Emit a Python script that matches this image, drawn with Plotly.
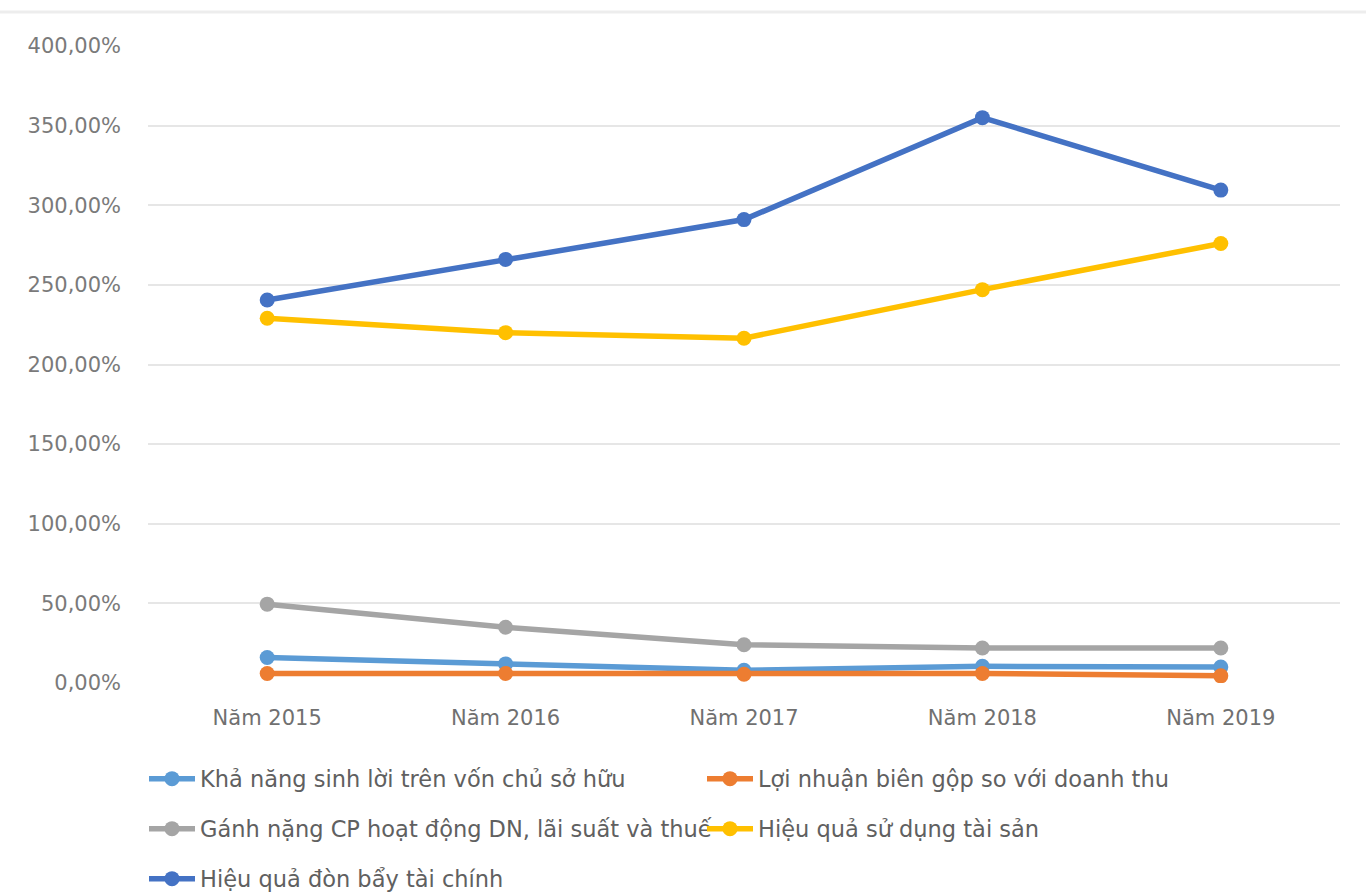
import plotly.graph_objects as go

categories = ["Năm 2015", "Năm 2016", "Năm 2017", "Năm 2018", "Năm 2019"]
roe = [16.0, 12.0, 8.0, 10.5, 10.0]
gross_margin = [6.0, 6.0, 5.5, 6.0, 4.5]
burden = [49.5, 35.0, 24.0, 22.0, 22.0]
asset_eff = [229.0, 220.0, 216.5, 247.0, 276.0]
leverage = [240.5, 266.0, 291.0, 355.0, 309.5]

names = [
    "Khả năng sinh lời trên vốn chủ sở hữu",
    "Lợi nhuận biên gộp so với doanh thu",
    "Gánh nặng CP hoạt động DN, lãi suất và thuế",
    "Hiệu quả sử dụng tài sản",
    "Hiệu quả đòn bẩy tài chính",
]
series = [roe, gross_margin, burden, asset_eff, leverage]
colors = ["#5B9BD5", "#ED7D31", "#A5A5A5", "#FFC000", "#4472C4"]
legend_ids = ["legend", "legend", "legend2", "legend2", "legend3"]
yticks = [0, 50, 100, 150, 200, 250, 300, 350, 400]
yticklabels = [f"{v},00%" for v in yticks]

fig = go.Figure()
for name, vals, col, lg in zip(names, series, colors, legend_ids):
    fig.add_trace(go.Scatter(
        x=categories, y=vals, name=name, mode="lines+markers",
        line=dict(color=col, width=5.5),
        marker=dict(color=col, size=15),
        legend=lg,
    ))

font_fam = "DejaVu Sans"
txt = "#606060"
leg_common = dict(orientation="h", xanchor="left", yanchor="middle",
                  font=dict(family=font_fam, size=22.5, color=txt),
                  bgcolor="rgba(0,0,0,0)", entrywidth=497, entrywidthmode="pixels",
                  itemwidth=46, traceorder="normal")

def py(pix):
    return (683 - pix) / 637.0

def px(pix):
    return (pix - 148) / 1192.0

fig.update_layout(
    width=1366, height=893,
    margin=dict(l=148, r=26, t=46, b=210, autoexpand=False),
    paper_bgcolor="white", plot_bgcolor="white",
    font=dict(family=font_fam, size=21, color=txt),
    xaxis=dict(range=[-0.5, 4.5], showgrid=False, showline=False, zeroline=False, ticks="",
               tickfont=dict(family=font_fam, size=21, color="#707070"), ticklabelstandoff=20),
    yaxis=dict(range=[0, 400], tickvals=yticks, ticktext=yticklabels,
               showgrid=True, gridcolor="#e6e6e6", gridwidth=2, zeroline=False,
               showline=False, ticks="", ticklabelstandoff=26,
               tickfont=dict(family=font_fam, size=21, color="#7a7a7a")),
    legend=dict(x=px(144), y=py(779), **leg_common),
    legend2=dict(x=px(144), y=py(829), **leg_common),
    legend3=dict(x=px(144), y=py(879), **leg_common),
    showlegend=True,
    shapes=[dict(type="line", xref="paper", yref="paper", x0=-0.125, x1=1.025,
                 y0=py(12), y1=py(12), line=dict(color="#ededed", width=3))],
)

fig.write_html("out.html")
